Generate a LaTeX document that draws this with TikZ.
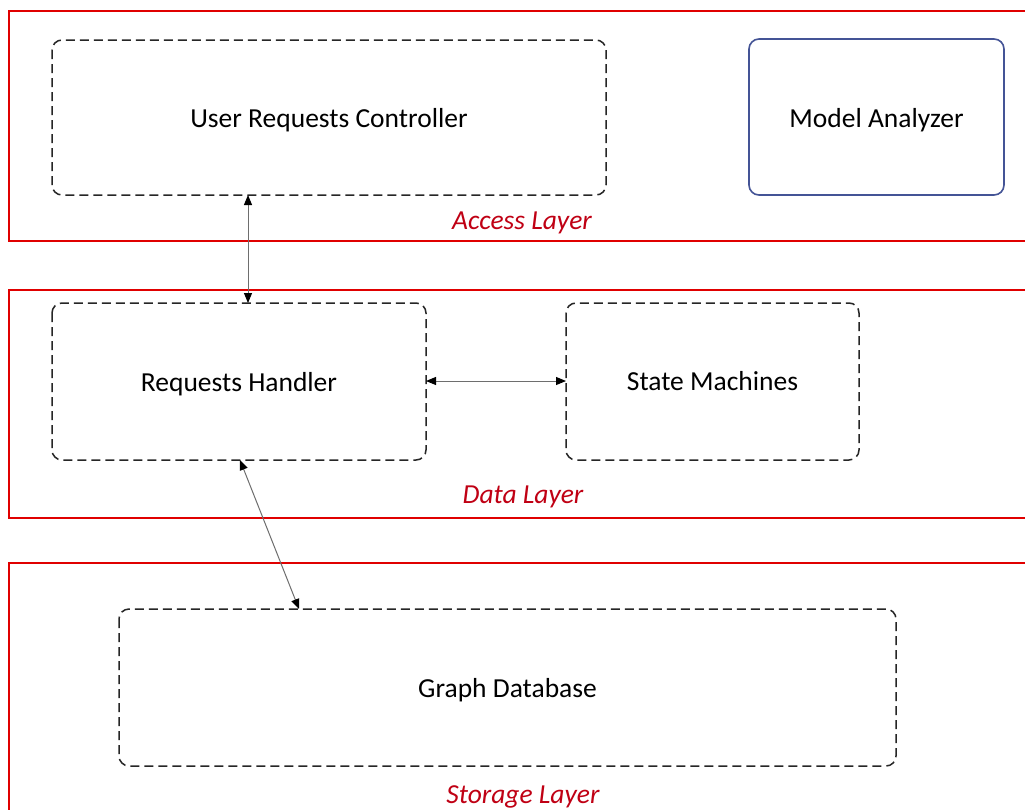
\documentclass[tikz,border=0pt]{standalone}
\usepackage{fontspec}
\setmainfont{Carlito}
\usetikzlibrary{arrows.meta}
\definecolor{layerred}{RGB}{224,0,0}
\definecolor{labelred}{RGB}{192,0,20}
\definecolor{mablue}{RGB}{68,84,150}
\definecolor{arrgray}{RGB}{110,110,110}
\begin{document}
\begin{tikzpicture}[x=1pt,y=-1pt,
  layer/.style={draw=layerred,line width=2pt},
  dbox/.style={draw=black!85,dash pattern=on 9pt off 5pt,line width=1.5pt,rounded corners=10pt},
  sbox/.style={draw=mablue,line width=1.6pt,rounded corners=10pt},
  boxtext/.style={font=\fontsize{27.5}{32}\selectfont},
  laytext/.style={font=\fontsize{27.5}{32}\selectfont\itshape,text=labelred},
  conn/.style={draw=arrgray,line width=1pt,{Triangle[length=10pt,width=8pt,color=black]}-{Triangle[length=10pt,width=8pt,color=black]}}]
\useasboundingbox (0,0) rectangle (1025,809);
\fill[white] (0,0) rectangle (1025,809);
% layers
\draw[layer] (1030,11) -- (9,11) -- (9,241) -- (1030,241);
\draw[layer] (1030,290) -- (9,290) -- (9,518) -- (1030,518);
\draw[layer] (1030,563) -- (9,563) -- (9,815);
\node[laytext] (lacc) at (522,223) {Access Layer};
\node[laytext] (ldata) at (523,497) {Data Layer};
\node[laytext] (lstor) at (523,797) {Storage Layer};
% boxes
\draw[dbox] (52,40) rectangle (606,195);
\node[boxtext] (urc) at (329,120) {User Requests Controller};
\coordinate (urcS) at (248,195);
\draw[sbox] (749,39) rectangle (1004,195);
\node[boxtext] (ma) at (876.5,120) {Model Analyzer};
\draw[dbox] (52,303) rectangle (426,460);
\node[boxtext] (rh) at (239,384) {Requests Handler};
\coordinate (rhN) at (248,303);
\coordinate (rhE) at (426,381);
\coordinate (rhS) at (240,460);
\draw[dbox] (566,303) rectangle (859,460);
\node[boxtext] (sm) at (712.5,381.5) {State Machines};
\coordinate (smW) at (566,381);
\draw[dbox] (119,609) rectangle (896,766);
\node[boxtext] (gd) at (507.5,690) {Graph Database};
\coordinate (gdN) at (299,609);
% connectors
\draw[conn] (urcS) -- (rhN);
\draw[conn] (rhE) -- (smW);
\draw[conn] (rhS) -- (gdN);
\end{tikzpicture}
\end{document}
